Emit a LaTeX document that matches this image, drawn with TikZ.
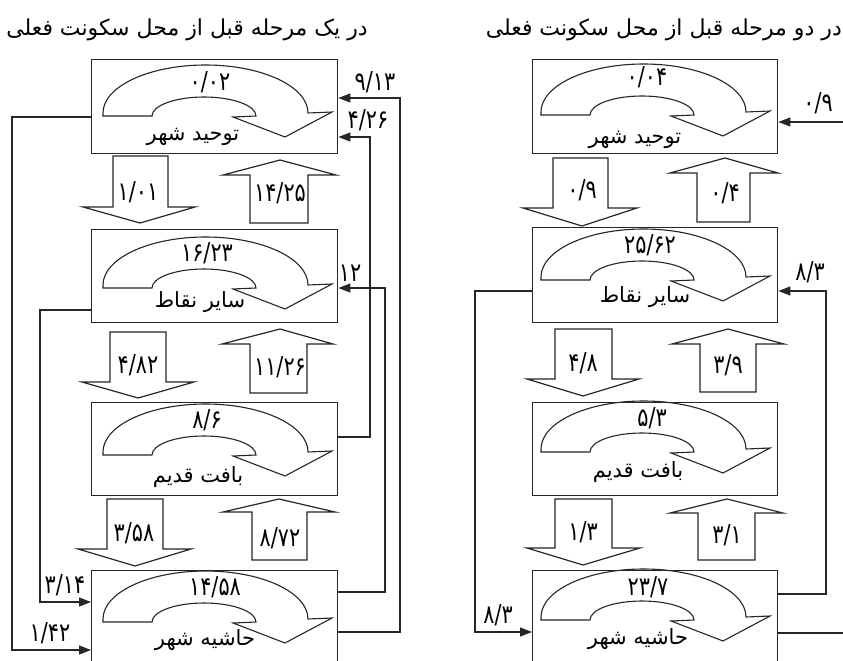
\documentclass[tikz,border=0pt]{standalone}
\usepackage{fontspec}
\TeXXeTstate=1
\newfontfamily\arabicfont[Script=Arabic]{DejaVu Sans}
\newfontfamily\numfont[Script=Arabic, FakeStretch=0.8]{DejaVu Sans}
\usetikzlibrary{arrows.meta}
\newcommand\blockarrow[8]{\draw[blk] (#1,#3) -- (#2,#3) -- (#2,#4) -- (#6,#4) -- (#7,#8) -- (#5,#4) -- (#1,#4) -- cycle;}
\begin{document}
\begin{tikzpicture}[x=1pt,y=-1pt,
  line join=miter,
  box/.style={draw=black!85, line width=1.4pt, inner sep=0pt, anchor=north west},
  blk/.style={draw=black!85, line width=1.2pt},
  conn/.style={draw=black!85, line width=1.2pt},
  arr/.style={conn, -{Triangle[length=12pt,width=9pt]}},
  num/.style={font=\numfont\fontsize{26}{28}\selectfont, inner sep=0pt},
  lbl/.style={font=\arabicfont\fontsize{21}{24}\selectfont, inner sep=0pt},
  ttl/.style={font=\arabicfont\fontsize{22}{24}\selectfont, inner sep=0pt},
  uturn/.pic={
    \draw[black!85, line width=1.1pt] (-102,0) -- (-53,0)
      arc[start angle=180, end angle=360, x radius=52, y radius=19]
      -- (28,1) -- (80,21) -- (127,-4) -- (103,-3)
      arc[start angle=360, end angle=180, x radius=102.5, y radius=48]
      -- cycle;
  }]
\clip (0,0) rectangle (843,661);
\fill[white] (0,0) rectangle (843,661);

% ---------------- titles
\node[ttl] (t1) at (187,30) {\beginR در یک مرحله قبل از محل سکونت فعلی\endR};
\node[ttl, anchor=east] (t2) at (842,30) {\beginR در دو مرحله قبل از محل سکونت فعلی\endR};

% ---------------- left panel boxes
\node[box, minimum width=246pt, minimum height=94pt] (L1) at (91,59) {};
\node[box, minimum width=246pt, minimum height=93pt] (L2) at (91,229) {};
\node[box, minimum width=246pt, minimum height=93pt] (L3) at (91,402) {};
\node[box, minimum width=246pt, minimum height=140pt] (L4) at (91,570) {};

\pic at (205,116) {uturn};
\pic at (205,288) {uturn};
\pic at (205,455) {uturn};
\pic at (205,622) {uturn};

\node[num] (L1n) at (210,82) {۰/۰۲};
\node[num] (L2n) at (207,253) {۱۶/۲۳};
\node[num] (L3n) at (207,420) {۸/۶};
\node[num] (L4n) at (215,587) {۱۴/۵۸};
\node[lbl] (L1l) at (193,137) {\beginR توحید شهر\endR};
\node[lbl] (L2l) at (200,302) {\beginR سایر نقاط\endR};
\node[lbl] (L3l) at (198,477) {\beginR بافت قدیم\endR};
\node[lbl] (L4l) at (205,640) {\beginR حاشیه شهر\endR};

% block arrows left
\blockarrow{113}{168}{156}{207}{83}{195}{140}{223}
\blockarrow{250}{308}{223}{175}{223}{336}{280}{160}
\blockarrow{110}{166}{332}{382}{82}{194}{138}{398}
\blockarrow{250}{307}{393}{344}{222}{333}{280}{329}
\blockarrow{107}{163}{499}{549}{78}{191}{135}{566}
\blockarrow{252}{307}{560}{512}{223}{335}{279}{499}
\node[num] (LD1) at (138,192) {۱/۰۱};
\node[num] (LU1) at (280,193) {۱۴/۲۵};
\node[num] (LD2) at (138,365) {۴/۸۲};
\node[num] (LU2) at (280,367) {۱۱/۲۶};
\node[num] (LD3) at (134,533) {۳/۵۸};
\node[num] (LU3) at (280,538) {۸/۷۲};

% connectors left
\draw[arr] (L1.west |- 0,117) -- (12,117) -- (12,650) -- (L4.west |- 0,650);
\draw[arr] (L2.west |- 0,310) -- (40,310) -- (40,602) -- (L4.west |- 0,602);
\draw[arr] (L3.east |- 0,437) -- (370,437) -- (370,137) -- (L1.east |- 0,137);
\draw[arr] (L4.east |- 0,592) -- (385,592) -- (385,288) -- (L2.east |- 0,288);
\draw[arr] (L4.east |- 0,632) -- (400,632) -- (400,98) -- (L1.east |- 0,98);
\node[num] (c1) at (50,633) {۱/۴۲};
\node[num] (c2) at (65,585) {۳/۱۴};
\node[num] (c3) at (368,120) {۴/۲۶};
\node[num] (c4) at (350,273) {۱۲};
\node[num] (c5) at (375,82) {۹/۱۳};

% ---------------- right panel boxes
\node[box, minimum width=245pt, minimum height=94pt] (R1) at (532,59) {};
\node[box, minimum width=245pt, minimum height=95pt] (R2) at (532,227) {};
\node[box, minimum width=245pt, minimum height=93pt] (R3) at (532,402) {};
\node[box, minimum width=245pt, minimum height=140pt] (R4) at (532,570) {};

\pic at (643,115) {uturn};
\pic at (643,280) {uturn};
\pic at (643,452) {uturn};
\pic at (643,620) {uturn};

\node[num] (R1n) at (647,77) {۰/۰۴};
\node[num] (R2n) at (650,245) {۲۵/۶۲};
\node[num] (R3n) at (652,418) {۵/۳};
\node[num] (R4n) at (648,587) {۲۳/۷};
\node[lbl] (R1l) at (635,140) {\beginR توحید شهر\endR};
\node[lbl] (R2l) at (645,297) {\beginR سایر نقاط\endR};
\node[lbl] (R3l) at (638,472) {\beginR بافت قدیم\endR};
\node[lbl] (R4l) at (638,639) {\beginR حاشیه شهر\endR};

% block arrows right
\blockarrow{553}{608}{158}{208}{523}{637}{582}{226}
\blockarrow{697}{750}{222}{173}{670}{778}{725}{158}
\blockarrow{555}{612}{329}{379}{527}{639}{583}{396}
\blockarrow{700}{756}{392}{344}{672}{784}{728}{329}
\blockarrow{555}{612}{499}{548}{527}{640}{583}{565}
\blockarrow{698}{755}{560}{513}{670}{783}{727}{499}
\node[num] (RD1) at (582,190) {۰/۹};
\node[num] (RU1) at (725,193) {۰/۴};
\node[num] (RD2) at (583,363) {۴/۸};
\node[num] (RU2) at (728,365) {۳/۹};
\node[num] (RD3) at (583,532) {۱/۳};
\node[num] (RU3) at (727,535) {۳/۱};

% connectors right
\coordinate (rin) at (845,122);
\coordinate (rout) at (845,633);
\draw[arr] (rin) -- (R1.east |- 0,122);
\draw[arr] (R2.west |- 0,291) -- (475,291) -- (475,632) -- (R4.west |- 0,632);
\draw[arr] (R4.east |- 0,594) -- (826,594) -- (826,291) -- (R2.east |- 0,291);
\draw[conn] (R4.east |- 0,633) -- (rout);
\node[num] (r1) at (818,103) {۰/۹};
\node[num] (r2) at (810,272) {۸/۳};
\node[num] (r3) at (498,615) {۸/۳};
\end{tikzpicture}
\end{document}
